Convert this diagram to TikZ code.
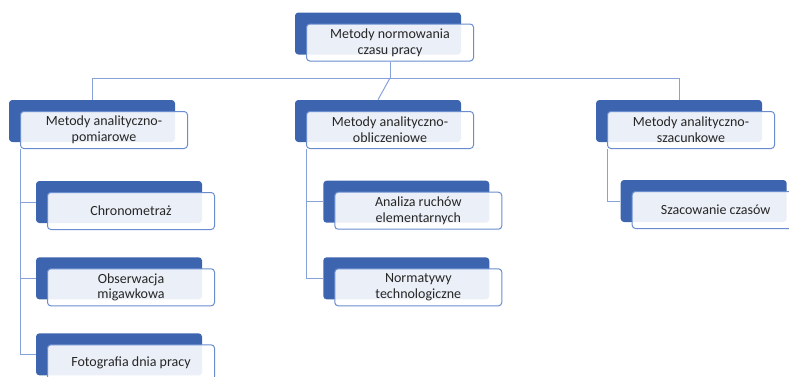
\documentclass[tikz,border=0pt]{standalone}
\usepackage{fontspec}
\setmainfont{Carlito}
\usetikzlibrary{positioning,calc}
\definecolor{boxblue}{HTML}{3D65AF}
\definecolor{edgeblue}{HTML}{6A8DD0}
\definecolor{linkblue}{HTML}{86A2D8}
\definecolor{txtgray}{HTML}{262626}

\begin{document}
\begin{tikzpicture}[x=0.75pt,y=-0.75pt,
  backbox/.style={fill=boxblue,rounded corners=2.5pt,minimum width=124.5pt,minimum height=31.5pt,inner sep=0pt},
  labelbox/.style={draw=edgeblue,line width=0.75pt,fill=white,fill opacity=0.9,text opacity=1,rounded corners=2.5pt,
    minimum width=125.25pt,minimum height=27.75pt,inner sep=0pt,align=center,
    font=\fontsize{10.5}{11.8}\selectfont,text=txtgray},
  conn/.style={draw=linkblue,line width=0.75pt}]
  \useasboundingbox (0,0) rectangle (789,376);
  % dark backing boxes
  \node[backbox] (normB) at (378,33.5) {};
  \node[backbox] (pomB) at (92,121) {};
  \node[backbox] (oblB) at (378,121) {};
  \node[backbox] (szaB) at (679,121) {};
  \node[backbox] (chrB) at (119,202) {};
  \node[backbox] (obsB) at (119,278.3) {};
  \node[backbox] (fotB) at (119,354.3) {};
  \node[backbox] (anaB) at (406.3,201.7) {};
  \node[backbox] (norB) at (406.3,278.3) {};
  \node[backbox] (szcB) at (703.7,201) {};
  % label boxes
  \node[labelbox] (norm) at (390,42.5) {Metody normowania\\czasu pracy};
  \node[labelbox] (pom) at (104,130) {Metody analityczno-\\pomiarowe};
  \node[labelbox] (obl) at (390,130) {Metody analityczno-\\obliczeniowe};
  \node[labelbox] (sza) at (691,130) {Metody analityczno-\\szacunkowe};
  \node[labelbox] (chr) at (131,211) {Chronometraż};
  \node[labelbox] (obs) at (131,287.3) {Obserwacja\\migawkowa};
  \node[labelbox] (fot) at (131,363.3) {Fotografia dnia pracy};
  \node[labelbox] (ana) at (418.3,210.7) {Analiza ruchów\\elementarnych};
  \node[labelbox] (nor) at (418.3,287.3) {Normatywy\\technologiczne};
  \node[labelbox] (szc) at (715.7,210) {Szacowanie czasów};
  % tree lines
  \draw[conn] (norm.south) -- ++(0,16.5) coordinate (bus);
  \draw[conn] (pomB.north) |- (bus);
  \draw[conn] (szaB.north) |- (bus);
  \draw[conn] (oblB.north) -- (bus);
  \draw[conn] (pom.south west) |- (chrB.west);
  \draw[conn] (pom.south west) |- (obsB.west);
  \draw[conn] (pom.south west) |- (fotB.west);
  \draw[conn] (obl.south west) |- (anaB.west);
  \draw[conn] (obl.south west) |- (norB.west);
  \draw[conn] (sza.south west) |- (szcB.west);
\end{tikzpicture}
\end{document}
